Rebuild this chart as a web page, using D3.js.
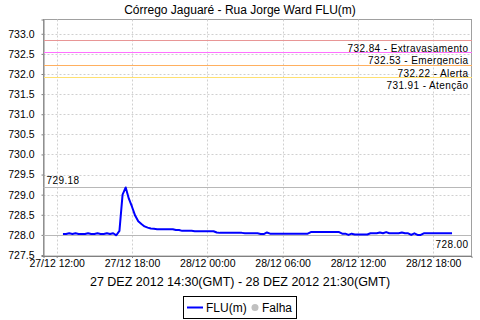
<!DOCTYPE html>
<html>
<head>
<meta charset="utf-8">
<script src="https://cdn.jsdelivr.net/npm/d3@7"></script>
<style>
  body { margin: 0; background: #fff; }
  svg text { font-family: "Liberation Sans", sans-serif; fill: #000; }
</style>
</head>
<body>
<div id="chart"></div>
<script>
// readings every 15 min, local time, from 27/12 12:30 to 28/12 19:30
const startTime = new Date(2012, 11, 27, 12, 30);
const stepMinutes = 15;
const flu = [
  728.02, 728.02,
  728.04, 728.02, 728.04, 728.02,
  728.02, 728.02, 728.04, 728.02,
  728.02, 728.04, 728.02, 728.02,
  728.04, 728.02, 728.04, 727.99,
  728.10, 729.00, 729.18, 728.90,
  728.70, 728.48, 728.34, 728.27,
  728.21, 728.18, 728.16, 728.15,
  728.14, 728.14, 728.14, 728.14,
  728.14, 728.14, 728.12, 728.12,
  728.10, 728.10, 728.10, 728.10,
  728.09, 728.09, 728.09, 728.09,
  // 28/12
  728.09, 728.09, 728.09, 728.06,
  728.05, 728.05, 728.05, 728.05,
  728.05, 728.05, 728.05, 728.05,
  728.04, 728.04, 728.04, 728.04,
  728.04, 728.02, 728.02, 728.06,
  728.03, 728.03, 728.03, 728.03,
  728.03, 728.03, 728.03, 728.03,
  728.03, 728.03, 728.03, 728.03,
  728.03, 728.07, 728.07, 728.07,
  728.07, 728.07, 728.07, 728.07,
  728.07, 728.07, 728.07, 728.03,
  728.03, 728.00, 728.03, 728.01,
  728.01, 728.01, 728.01, 728.01,
  728.04, 728.04, 728.04, 728.06,
  728.04, 728.07, 728.04, 728.04,
  728.04, 728.04, 728.06, 728.04,
  728.04, 728.00, 728.04, 728.00,
  728.00, 728.04, 728.04, 728.04,
  728.04, 728.04, 728.04, 728.04,
  728.04, 728.04, 728.04
];

// alarm levels
const levelValues = [732.84, 732.53, 732.22, 731.91];
const levelNames = ["Extravasamento", "Emergencia", "Alerta", "Atenção"];
const levelColors = ["#e89696", "#ff70ff", "#ffb060", "#ffe070"];

const yTicks = [727.5, 728.0, 728.5, 729.0, 729.5, 730.0, 730.5, 731.0, 731.5, 732.0, 732.5, 733.0];
const xTicks = [
  new Date(2012, 11, 27, 12), new Date(2012, 11, 27, 18),
  new Date(2012, 11, 28, 0), new Date(2012, 11, 28, 6),
  new Date(2012, 11, 28, 12), new Date(2012, 11, 28, 18)
];

const title = "Córrego Jaguaré - Rua Jorge Ward FLU(m)";
const xTitle = "27 DEZ 2012 14:30(GMT) - 28 DEZ 2012 21:30(GMT)";

const data = flu.map((v, i) => ({ t: d3.timeMinute.offset(startTime, i * stepMinutes), v: v }));

const width = 480, height = 320;
const plot = { left: 43.5, top: 19.5, right: 471.5, bottom: 256 };

const svg = d3.select("#chart").append("svg")
  .attr("width", width)
  .attr("height", height);

// domain with ~5% margin like the original
const tExt = d3.extent(data, d => d.t);
const span = tExt[1] - tExt[0];
const x = d3.scaleTime()
  .domain([new Date(+tExt[0] - span * 0.05), new Date(+tExt[1] + span * 0.05)])
  .range([plot.left, plot.right]);
const y = d3.scaleLinear()
  .domain([727.475, 733.355])
  .range([plot.bottom, plot.top]);

// plot background
svg.append("rect")
  .attr("x", plot.left).attr("y", plot.top)
  .attr("width", plot.right - plot.left).attr("height", plot.bottom - plot.top)
  .attr("fill", "#fff")
  .attr("stroke", "#a0a0a0");

// gridlines
svg.append("g").selectAll("line")
  .data(yTicks)
  .join("line")
    .attr("x1", plot.left).attr("x2", plot.right)
    .attr("y1", d => Math.round(y(d)) + 0.5).attr("y2", d => Math.round(y(d)) + 0.5)
    .attr("stroke", "#d0d0d0")
    .attr("stroke-dasharray", "2,2");
svg.append("g").selectAll("line")
  .data(xTicks)
  .join("line")
    .attr("x1", d => Math.round(x(d)) + 0.5).attr("x2", d => Math.round(x(d)) + 0.5)
    .attr("y1", plot.top).attr("y2", plot.bottom)
    .attr("stroke", "#d0d0d0")
    .attr("stroke-dasharray", "2,2");

// axes
const yAxis = svg.append("g")
  .attr("transform", `translate(${plot.left},0)`)
  .call(d3.axisLeft(y).tickValues(yTicks).tickFormat(d3.format(".1f")).tickSize(2).tickPadding(7));
const xAxis = svg.append("g")
  .attr("transform", `translate(0,${plot.bottom})`)
  .call(d3.axisBottom(x).tickValues(xTicks).tickFormat(d3.timeFormat("%d/%m %H:%M")).tickSize(2).tickPadding(2));
[yAxis, xAxis].forEach(a => {
  a.select(".domain").attr("stroke", "#808080");
  a.selectAll(".tick line").attr("stroke", "#808080");
  a.selectAll("text")
    .style("font-family", "Liberation Sans, sans-serif")
    .style("font-size", "10.5px")
    .attr("fill", "#333");
});

// alarm level lines
const levels = svg.append("g");
levelValues.forEach((lv, i) => {
  const yy = Math.floor(y(lv)) + 0.5;
  levels.append("line")
    .attr("x1", plot.left).attr("x2", plot.right)
    .attr("y1", yy).attr("y2", yy)
    .attr("stroke", levelColors[i])
    .attr("shape-rendering", "crispEdges");
  levels.append("text")
    .attr("x", plot.right - 3)
    .attr("y", yy + 11.5)
    .attr("text-anchor", "end")
    .style("font-size", "10px")
    .style("letter-spacing", "0.4px")
    .attr("fill", "#333")
    .text(`${lv.toFixed(2)} - ${levelNames[i]}`);
});

// max / min markers
const maxV = d3.max(flu), minV = 728.00;
const yMax = Math.round(y(maxV)) + 0.5;
svg.append("line")
  .attr("x1", plot.left).attr("x2", plot.right)
  .attr("y1", yMax).attr("y2", yMax)
  .attr("stroke", "#b8b8b8");
svg.append("text")
  .attr("x", plot.left + 3).attr("y", yMax - 4)
  .style("font-size", "10px").style("letter-spacing", "0.4px")
  .attr("fill", "#333")
  .text(maxV.toFixed(2));
const yMin = Math.round(y(minV)) + 0.5;
svg.append("line")
  .attr("x1", plot.left).attr("x2", plot.right)
  .attr("y1", yMin).attr("y2", yMin)
  .attr("stroke", "#b8b8b8");
svg.append("text")
  .attr("x", plot.right - 3).attr("y", yMin + 12)
  .attr("text-anchor", "end")
  .style("font-size", "10px").style("letter-spacing", "0.4px")
  .attr("fill", "#333")
  .text(minV.toFixed(2));

// series line
svg.append("path")
  .datum(data)
  .attr("fill", "none")
  .attr("stroke", "#0000ff")
  .attr("stroke-width", 2)
  .attr("stroke-linejoin", "round")
  .attr("d", d3.line().x(d => x(d.t)).y(d => y(d.v)));

// titles
svg.append("text")
  .attr("x", 240).attr("y", 14)
  .attr("text-anchor", "middle")
  .style("font-size", "12px")
  .text(title);
svg.append("text")
  .attr("x", 240).attr("y", 286)
  .attr("text-anchor", "middle")
  .style("font-size", "12.5px")
  .text(xTitle);

// legend
const lg = svg.append("g");
lg.append("rect")
  .attr("x", 183.5).attr("y", 296.5)
  .attr("width", 113).attr("height", 22)
  .attr("fill", "#fff").attr("stroke", "#000");
lg.append("line")
  .attr("x1", 187).attr("x2", 203)
  .attr("y1", 307.5).attr("y2", 307.5)
  .attr("stroke", "#0000ff").attr("stroke-width", 2);
lg.append("text")
  .attr("x", 206).attr("y", 312)
  .style("font-size", "12px")
  .text("FLU(m)");
lg.append("circle")
  .attr("cx", 255).attr("cy", 307.5).attr("r", 3.5)
  .attr("fill", "#c0c0c0");
lg.append("text")
  .attr("x", 262).attr("y", 312)
  .style("font-size", "12px")
  .text("Falha");
</script>
</body>
</html>
